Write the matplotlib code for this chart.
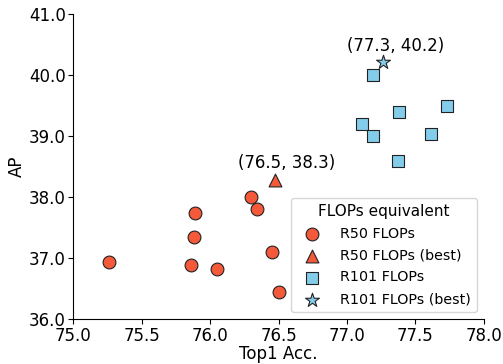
import matplotlib
matplotlib.use("Agg")
import matplotlib.pyplot as plt
from matplotlib.ticker import FormatStrFormatter
import numpy as np

# R50 FLOPs equivalent runs
r50_acc = [75.26, 75.86, 75.88, 75.89, 76.05, 76.30, 76.34, 76.45, 76.50]
r50_ap = [36.93, 36.89, 37.34, 37.74, 36.83, 38.00, 37.80, 37.10, 36.45]
r50_best_acc = [76.47]
r50_best_ap = [38.29]

# R101 FLOPs equivalent runs
r101_acc = [77.19, 77.11, 77.19, 77.38, 77.37, 77.61, 77.73]
r101_ap = [40.00, 39.20, 39.00, 39.39, 38.60, 39.03, 39.50]
r101_best_acc = [77.26]
r101_best_ap = [40.21]

best_labels = ["(76.5, 38.3)", "(77.3, 40.2)"]

red = "#f4593a"
blue = "#83ccea"

fig = plt.figure(figsize=(5.03, 3.64), dpi=100)
ax = fig.add_axes([0.146, 0.123, 0.816, 0.838])

kw = dict(edgecolor="#222222", linewidths=0.8, zorder=3)
ax.scatter(r50_acc, r50_ap, s=85, marker="o", color=red, label="R50 FLOPs", **kw)
ax.scatter(r50_best_acc, r50_best_ap, s=85, marker="^", color=red, label="R50 FLOPs (best)", **kw)
ax.scatter(r101_acc, r101_ap, s=85, marker="s", color=blue, label="R101 FLOPs", **kw)
ax.scatter(r101_best_acc, r101_best_ap, s=110, marker="*", color=blue, label="R101 FLOPs (best)", **kw)

for (bx, by), txt in zip([(r50_best_acc[0], r50_best_ap[0]), (r101_best_acc[0], r101_best_ap[0])], best_labels):
    ax.annotate(txt, (bx, by), xytext=(9, 5.5), textcoords="offset points",
                ha="center", va="bottom", fontsize=12)

ax.set_xlim(75, 78)
ax.set_ylim(36, 41)
ax.set_xticks(np.arange(75, 78.01, 0.5))
ax.set_yticks(np.arange(36, 41.01, 1))
ax.xaxis.set_major_formatter(FormatStrFormatter("%.1f"))
ax.yaxis.set_major_formatter(FormatStrFormatter("%.1f"))
ax.tick_params(labelsize=12, pad=2)
ax.set_xlabel("Top1 Acc.", fontsize=12, labelpad=0)
ax.set_ylabel("AP", fontsize=12, labelpad=2)
ax.spines["top"].set_visible(False)
ax.spines["right"].set_visible(False)

ax.legend(title="FLOPs equivalent", loc="lower right", fontsize=10.3, title_fontsize=11,
          handletextpad=1.0, labelspacing=0.55)

fig.savefig("out.png", dpi=100)
